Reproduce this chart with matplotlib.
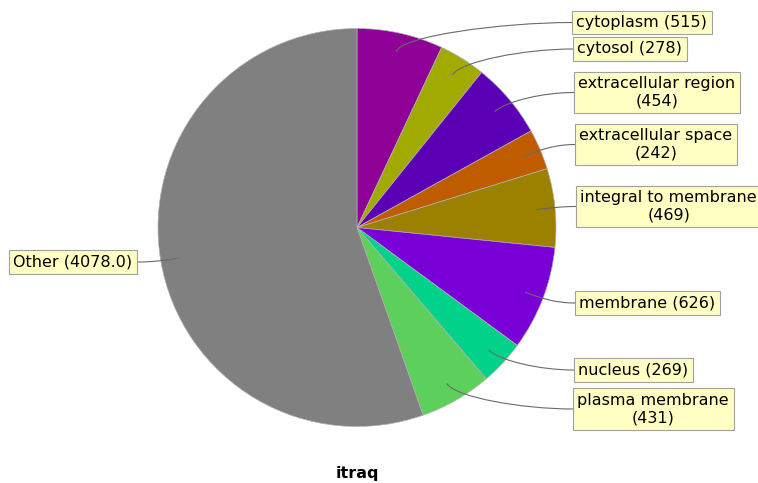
import numpy as np
import matplotlib
matplotlib.use("Agg")
import matplotlib.pyplot as plt
from matplotlib.path import Path
from matplotlib.patches import PathPatch

labels = ["cytoplasm", "cytosol", "extracellular region", "extracellular space",
          "integral to membrane", "membrane", "nucleus", "plasma membrane", "Other"]
counts = [515, 278, 454, 242, 469, 626, 269, 431, 4078.0]
label_texts = ["cytoplasm (515)", "cytosol (278)", "extracellular region\n(454)",
               "extracellular space\n(242)", "integral to membrane\n(469)",
               "membrane (626)", "nucleus (269)", "plasma membrane\n(431)",
               "Other (4078.0)"]
colors = ["#8e0096", "#a0aa00", "#5b00b4", "#bf5c00", "#9c8000",
          "#7a00d8", "#00d28a", "#5ccf5c", "#808080"]

# label box edges (pixels): x of the edge the link meets, y of box centre
box_x = [572, 573, 574, 575, 576, 575, 574, 573, 137]
box_y = [22.5, 49, 92.5, 144.5, 206.5, 303, 370, 409, 262]

W, H = 758, 483
cx, cy, R = 357, 227.5, 200.0

def px(x, y):
    return (x - cx) / R, (cy - y) / R

fig = plt.figure(figsize=(W / 100, H / 100), dpi=100)
ax = fig.add_axes([0, 0, 1, 1])

wedges, _ = ax.pie(counts, colors=colors, startangle=90, counterclock=False,
                   radius=0.995, wedgeprops=dict(edgecolor="#b0b0b0", linewidth=0.5))

# pie() resets the limits, so set them afterwards
ax.set_xlim(-cx / R, (W - cx) / R)
ax.set_ylim(-(H - cy) / R, cy / R)
ax.set_aspect("equal")
ax.axis("off")

fs = 11.5
pad = 0.28 * fs * 100 / 72 / R
for w, txt, bx, by in zip(wedges, label_texts, box_x, box_y):
    mid = np.deg2rad((w.theta1 + w.theta2) / 2)
    ux, uy = np.cos(mid), np.sin(mid)
    ax0, ay0 = 0.9 * ux, 0.9 * uy
    ex, ey = px(bx, by)
    right = ex > 0
    # cubic link: leaves wedge radially, arrives horizontally at the box
    p1 = (ax0 + 0.08 * ux, ay0 + 0.08 * uy)
    p2 = (ex - 0.4 * (ex - ax0), ey)
    path = Path([(ax0, ay0), p1, p2, (ex, ey)],
                [Path.MOVETO, Path.CURVE4, Path.CURVE4, Path.CURVE4])
    ax.add_patch(PathPatch(path, facecolor="none", edgecolor="#6a6a6a", linewidth=0.8))
    tx = ex + pad if right else ex - pad
    ax.text(tx, ey, txt, ha="left" if right else "right", va="center",
            multialignment="center", fontsize=fs, color="black",
            bbox=dict(boxstyle="square,pad=0.28", facecolor="#ffffc4",
                      edgecolor="#a0a0a0", linewidth=0.8))

tx, ty = px(357, 474)
ax.text(tx, ty, "itraq", ha="center", va="center", fontsize=11.5, fontweight="bold")

plt.savefig("out.png", dpi=100)
